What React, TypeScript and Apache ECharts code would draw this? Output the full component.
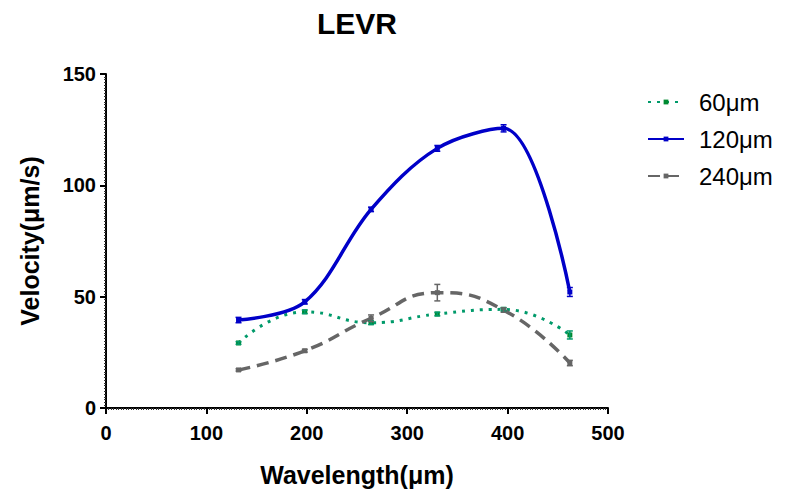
import React, { useEffect, useRef } from "react";
import * as echarts from "echarts";

const wavelengths = [132, 198, 264, 330, 396, 462];
const seriesNames = ["60\u03bcm", "120\u03bcm", "240\u03bcm"];
const v60 = [29.2, 43.2, 38.3, 42.2, 44.3, 32.8];
const v120 = [39.5, 47.7, 89.2, 116.6, 125.6, 52.1];
const v240 = [17.1, 25.7, 40.3, 51.8, 44.0, 20.2];
const e60 = [0.6, 0.8, 0.8, 0.8, 0.8, 1.8];
const e120 = [1.2, 1.0, 1.0, 1.3, 1.6, 2.0];
const e240 = [0.5, 0.6, 1.5, 3.7, 1.0, 1.2];
const xTicks = [0, 100, 200, 300, 400, 500];
const yTicks = [0, 50, 100, 150];

const colors = ["#009a6a", "#0000c8", "#666666"];
const markerColors = ["#008a30", "#0000c8", "#666666"];

export default function App() {
  const ref = useRef<HTMLDivElement>(null);
  useEffect(() => {
    if (!ref.current) return;
    const chart = echarts.init(ref.current, null, { renderer: "svg" });
    const valsAll = [v60, v120, v240];
    const errsAll = [e60, e120, e240];
    const lineTypes: any[] = [[3, 6], "solid", [12, 7]];
    const widths = [3, 3.5, 3.5];
    const smooths = [0.5, 0.35, 0.5];
    const lineSeries = valsAll.map((vals, i) => ({
      name: seriesNames[i],
      type: "line",
      smooth: smooths[i],
      data: wavelengths.map((w, j) => [w, vals[j]]),
      symbol: "rect",
      symbolSize: 5,
      itemStyle: { color: markerColors[i] },
      lineStyle: { color: colors[i], width: widths[i], type: lineTypes[i] },
      z: 3,
    }));
    const errSeries = valsAll.map((vals, i) => ({
      name: seriesNames[i] + "-err",
      type: "custom",
      data: wavelengths.map((w, j) => [w, vals[j], errsAll[i][j]]),
      z: 4,
      renderItem: (params: any, api: any) => {
        const x = api.value(0);
        const y = api.value(1);
        const e = api.value(2);
        const top = api.coord([x, y + e]);
        const bot = api.coord([x, y - e]);
        const st = { stroke: colors[i], lineWidth: 1.5 };
        return {
          type: "group",
          children: [
            { type: "line", shape: { x1: top[0], y1: top[1], x2: bot[0], y2: bot[1] }, style: st },
            { type: "line", shape: { x1: top[0] - 3, y1: top[1], x2: top[0] + 3, y2: top[1] }, style: st },
            { type: "line", shape: { x1: bot[0] - 3, y1: bot[1], x2: bot[0] + 3, y2: bot[1] }, style: st },
          ],
        };
      },
    }));
    const font = "Liberation Sans, Arial, sans-serif";
    const axisCommon = {
      axisLine: { show: true, onZero: false, lineStyle: { color: "#000", width: 2 } },
      axisTick: { show: true, length: 6, lineStyle: { color: "#000", width: 2 } },
      minorTick: { show: true, splitNumber: 40, length: 2, lineStyle: { color: "#333", width: 1 } },
      splitLine: { show: false },
      axisLabel: { color: "#000", fontSize: 20, fontWeight: "bold", fontFamily: font },
      nameTextStyle: { color: "#000", fontSize: 25, fontWeight: "bold", fontFamily: font },
    };
    chart.setOption({
      animation: false,
      backgroundColor: "#fff",
      title: {
        text: "LEVR",
        left: 352,
        textAlign: "center",
        top: 3,
        textStyle: { fontSize: 30, fontWeight: "bold", color: "#000", fontFamily: font },
      },
      legend: {
        orient: "vertical",
        left: 642,
        top: 85,
        itemWidth: 36,
        itemHeight: 6,
        itemGap: 13,
        data: seriesNames,
        textStyle: { fontSize: 24, color: "#000", fontFamily: font, padding: [0, 0, 0, 10] },
      },
      grid: { left: 106, right: 177, top: 74, bottom: 87, containLabel: false },
      xAxis: {
        ...axisCommon,
        type: "value",
        min: xTicks[0],
        max: xTicks[xTicks.length - 1],
        interval: 100,
        name: "Wavelength(\u03bcm)",
        nameLocation: "middle",
        nameGap: 54,
        axisLabel: { ...axisCommon.axisLabel, margin: 15 },
      },
      yAxis: {
        ...axisCommon,
        type: "value",
        min: yTicks[0],
        max: yTicks[yTicks.length - 1],
        interval: 50,
        name: "Velocity(\u03bcm/s)",
        nameLocation: "middle",
        nameGap: 64,
        axisLabel: { ...axisCommon.axisLabel, margin: 10 },
      },
      series: [...lineSeries, ...errSeries],
    });
    return () => chart.dispose();
  }, []);
  return <div ref={ref} style={{ width: 785, height: 495, position: "absolute", left: 0, top: 0 }} />;
}
